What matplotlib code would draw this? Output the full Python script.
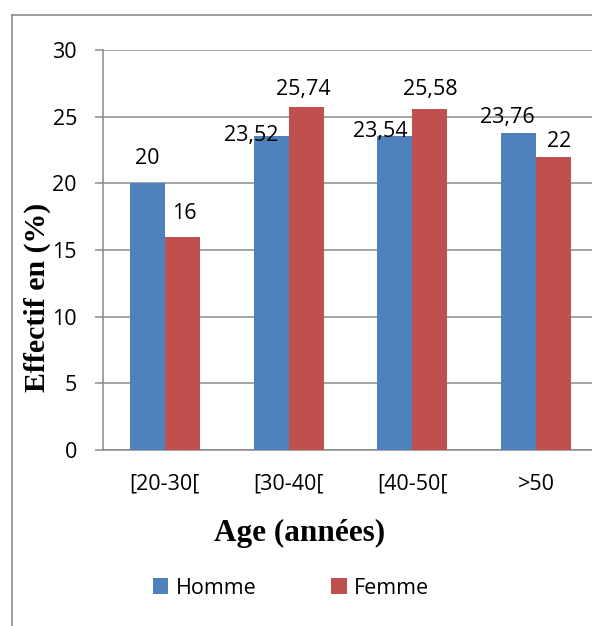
import matplotlib.pyplot as plt
from matplotlib.lines import Line2D
import numpy as np

# données : effectif par tranche d'âge et par sexe
categories = ['[20-30[', '[30-40[', '[40-50[', '>50']
homme = [20, 23.52, 23.54, 23.76]
femme = [16, 25.74, 25.58, 22]
homme_txt = ['20', '23,52', '23,54', '23,76']
femme_txt = ['16', '25,74', '25,58', '22']

# décalage des étiquettes (pixels) par rapport au haut de la barre
homme_off = [(0, 19), (-20, -5), (-15, -1), (-11, 10)]
femme_off = [(1.5, 17.5), (-3, 12), (0, 14), (6, 10)]

W, H = 592, 626
bleu = '#4F81BD'
rouge = '#C0504D'
gris = '#8a8a8a'

plt.rcParams['font.family'] = ['Open Sans', 'DejaVu Sans']

fig = plt.figure(figsize=(W / 100, H / 100), dpi=100)
ax = fig.add_axes([103 / W, 1 - 450 / H, 495 / W, 400 / H])

x = np.arange(len(categories))
w = 0.282
b1 = ax.bar(x - w / 2, homme, w, color=bleu, label='Homme', zorder=3)
b2 = ax.bar(x + w / 2, femme, w, color=rouge, label='Femme', zorder=3)

px = 72 / 100  # pixels -> points
for rects, txts, offs in [(b1, homme_txt, homme_off), (b2, femme_txt, femme_off)]:
    for r, t, (dx, dy) in zip(rects, txts, offs):
        ax.annotate(t, (r.get_x() + r.get_width() / 2, r.get_height()),
                    xytext=(dx * px, dy * px), textcoords='offset points',
                    ha='center', va='baseline', fontsize=15.5, color='black')

ax.set_xlim(-0.5, len(categories) - 0.5)
ax.set_ylim(0, 30)
ax.set_yticks(range(0, 31, 5))
ax.set_xticks(x)
ax.set_xticklabels(categories)
ax.yaxis.grid(True, color=gris, linewidth=1.1, zorder=0)
ax.set_axisbelow(True)

for s in ['top', 'right']:
    ax.spines[s].set_visible(False)
for s in ['left', 'bottom']:
    ax.spines[s].set_color(gris)
    ax.spines[s].set_linewidth(1.1)

ax.tick_params(axis='y', length=5.8, width=1.1, color=gris, pad=13, labelsize=15.5)
ax.tick_params(axis='x', length=0, pad=17, labelsize=15.5)

# titres des axes
fig.text(300 / W, 1 - 533 / H, 'Age (années)', ha='center', va='center',
         fontsize=22.5, fontweight='bold', family='Liberation Serif')
fig.text(37 / W, 1 - 297 / H, 'Effectif en (%)', ha='center', va='center',
         rotation=90, fontsize=21.5, fontweight='bold', family='Liberation Serif')

# légende
fig.legend(handles=[b1, b2], loc='center', bbox_to_anchor=(291 / W, 1 - 588 / H),
           ncol=2, frameon=False, fontsize=15.5, handlelength=0.7,
           handleheight=0.7, handletextpad=0.33, columnspacing=3.5)

# cadre du graphique
fig.add_artist(Line2D([12 / W, 12 / W], [0, 1 - 15 / H], color=gris, linewidth=1.2,
                      transform=fig.transFigure))
fig.add_artist(Line2D([12 / W, 1], [1 - 15 / H, 1 - 15 / H], color=gris, linewidth=1.2,
                      transform=fig.transFigure))

fig.savefig('out.png', dpi=100)
